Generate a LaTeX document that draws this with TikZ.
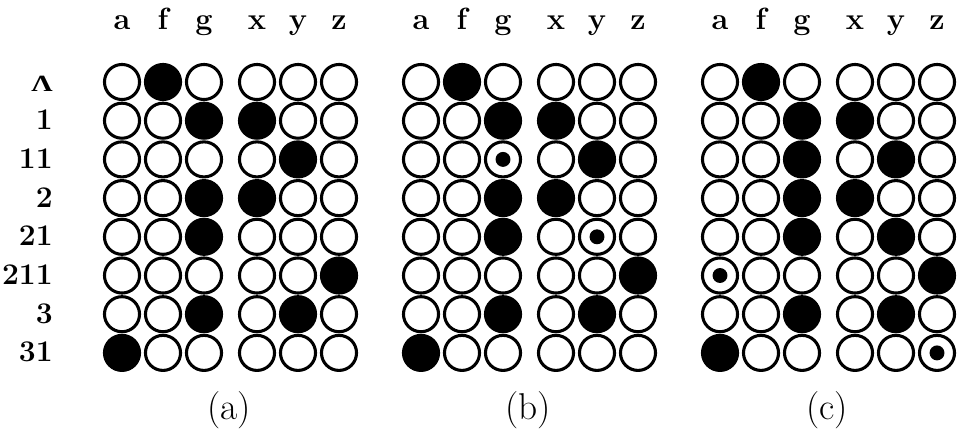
\documentclass[tikz,border=0pt]{standalone}
\usepackage{graphicx}
\usepackage{fontspec}
\newfontfamily\greekfont{Liberation Serif}
\usetikzlibrary{positioning}

\newcommand{\drawgrid}[3]{%
  \foreach \h [count=\j] in {a,f,g,x,y,z} {
    \pgfmathsetmacro{\cx}{{122,163,204,257,298,339}[\j-1]}
    \node[head] (#1h\j) at (#2+\cx, 30) {\h};
  }
  \foreach \row [count=\i] in {#3} {
    \foreach \v [count=\j] in \row {
      \pgfmathsetmacro{\cx}{{122,163,204,257,298,339}[\j-1]}
      \node[cell\v] (#1\i\j) at (#2+\cx, {82+38.7*(\i-1)}) {};
    }
  }
  \node[panel] (#1lab) at (#2+229, 419) {(#1)};
}

\begin{document}
\begin{tikzpicture}[
  x=0.75pt, y=-0.75pt,
  cell/.style={circle, draw, line width=2.3pt, minimum size=26.3pt, inner sep=0pt},
  cell0/.style={cell},
  cell1/.style={cell, fill=black},
  cell2/.style={cell, path picture={\fill (path picture bounding box.center) circle (5.6pt);}},
  head/.style={font=\fontsize{23}{23}\selectfont\bfseries, anchor=base, inner sep=0pt},
  rowlab/.style={font=\fontsize{22.5}{22.5}\selectfont\bfseries, anchor=base east, inner sep=0pt},
  panel/.style={font=\fontsize{28}{28}\selectfont, anchor=base, inner sep=0pt}
]
\useasboundingbox (0,0) rectangle (962,442);

\node[rowlab] (r0) at (53, 92) {\resizebox{16pt}{11.5pt}{\greekfont\bfseries Λ}};
\foreach \r [count=\i] in {1,11,2,21,211,3,31}
  \node[rowlab] (r\i) at (53, {91+38.7*\i}) {\r};

\drawgrid{a}{0}{
  {0,1,0,0,0,0},{0,0,1,1,0,0},{0,0,0,0,1,0},{0,0,1,1,0,0},
  {0,0,1,0,0,0},{0,0,0,0,0,1},{0,0,1,0,1,0},{1,0,0,0,0,0}}
\drawgrid{b}{299}{
  {0,1,0,0,0,0},{0,0,1,1,0,0},{0,0,2,0,1,0},{0,0,1,1,0,0},
  {0,0,1,0,2,0},{0,0,0,0,0,1},{0,0,1,0,1,0},{1,0,0,0,0,0}}
\drawgrid{c}{598}{
  {0,1,0,0,0,0},{0,0,1,1,0,0},{0,0,1,0,1,0},{0,0,1,1,0,0},
  {0,0,1,0,1,0},{2,0,0,0,0,1},{0,0,1,0,1,0},{1,0,0,0,0,2}}
\end{tikzpicture}
\end{document}
